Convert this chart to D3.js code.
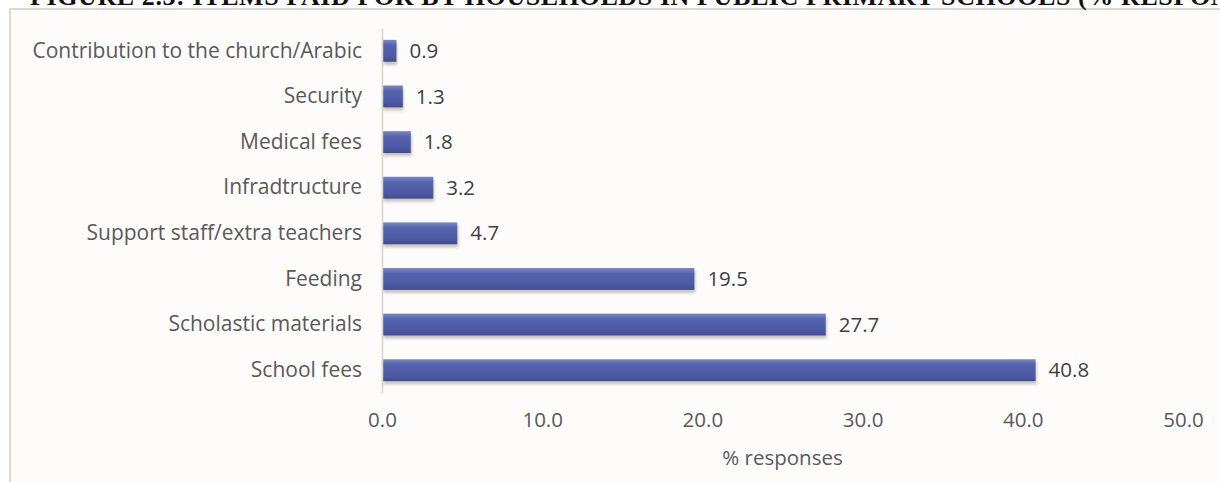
<!DOCTYPE html>
<html>
<head>
<meta charset="utf-8">
<script src="https://cdn.jsdelivr.net/npm/d3@7"></script>
<style>
  body { margin: 0; background: #ffffff; }
  svg { display: block; }
</style>
</head>
<body>
<svg id="chart" width="1220" height="482"></svg>
<script>
// data
var titleText = "FIGURE 2.3: ITEMS PAID FOR BY HOUSEHOLDS IN PUBLIC PRIMARY SCHOOLS (% RESPONSES)";
var categories = [
  "Contribution to the church/Arabic",
  "Security",
  "Medical fees",
  "Infradtructure",
  "Support staff/extra teachers",
  "Feeding",
  "Scholastic materials",
  "School fees"
];
var values = [0.9, 1.3, 1.8, 3.2, 4.7, 19.5, 27.7, 40.8];
var xTicks = [0, 10, 20, 30, 40, 50];
var xTitle = "% responses";

var svg = d3.select("#chart");
var font = "'Open Sans', Lato, sans-serif";
var fs = 20.5;

var margin = { top: 28, left: 382, right: 37, bottom: 89 };
var width = 1220 - margin.left - margin.right;
var height = 482 - margin.top - margin.bottom;

// frame + title strip (title is cut at the top, as in the scan)
svg.append("rect").attr("x", 0).attr("y", 0).attr("width", 1220).attr("height", 482).attr("fill", "#ffffff");
svg.append("rect")
  .attr("x", 10).attr("y", 9).attr("width", 1230).attr("height", 490)
  .attr("fill", "#fdfcfb").attr("stroke", "#dcd7d2").attr("stroke-width", 2);
svg.append("text")
  .attr("x", 30).attr("y", 4.5)
  .attr("font-family", "'Liberation Serif', 'Times New Roman', serif")
  .attr("font-weight", "bold")
  .attr("font-size", 26)
  .attr("letter-spacing", 0.6)
  .attr("fill", "#111")
  .text(titleText);

var defs = svg.append("defs");
var grad = defs.append("linearGradient").attr("id", "barGrad").attr("x1", 0).attr("y1", 0).attr("x2", 0).attr("y2", 1);
grad.append("stop").attr("offset", "0%").attr("stop-color", "#7a88c6");
grad.append("stop").attr("offset", "25%").attr("stop-color", "#5463ad");
grad.append("stop").attr("offset", "75%").attr("stop-color", "#4c5aa3");
grad.append("stop").attr("offset", "100%").attr("stop-color", "#3f4c8f");

var shadow = defs.append("filter").attr("id", "shadow").attr("x", "-5%").attr("y", "-20%").attr("width", "115%").attr("height", "160%");
shadow.append("feDropShadow").attr("dx", 1).attr("dy", 3).attr("stdDeviation", 1.5)
  .attr("flood-color", "#8a7a60").attr("flood-opacity", 0.45);

var g = svg.append("g").attr("transform", "translate(" + margin.left + "," + margin.top + ")");

var x = d3.scaleLinear().domain([0, 50]).range([0, width]);
var y = d3.scaleBand().domain(categories).range([0, height]).paddingInner(0.52).paddingOuter(0.26);

// bars
g.selectAll(".bar")
  .data(values)
  .enter()
  .append("rect")
  .attr("class", "bar")
  .attr("x", 0)
  .attr("y", function(d, i) { return y(categories[i]); })
  .attr("width", function(d) { return x(d); })
  .attr("height", y.bandwidth())
  .attr("fill", "url(#barGrad)")
  .attr("filter", "url(#shadow)");

// value labels
g.selectAll(".val")
  .data(values)
  .enter()
  .append("text")
  .attr("class", "val")
  .attr("x", function(d) { return x(d) + 13; })
  .attr("y", function(d, i) { return y(categories[i]) + y.bandwidth() / 2; })
  .attr("dy", "0.35em")
  .attr("font-family", font)
  .attr("font-size", fs)
  .attr("fill", "#404040")
  .text(function(d) { return d.toFixed(1); });

// y axis
var yAxis = g.append("g").call(d3.axisLeft(y).tickSize(0).tickPadding(20));
yAxis.select(".domain").attr("stroke", "#d8d2cc").attr("stroke-width", 1.5);
yAxis.selectAll("text").attr("font-family", font).attr("font-size", 21).attr("fill", "#595959");

// x axis (no line, labels only)
var xAxis = g.append("g")
  .attr("transform", "translate(0," + height + ")")
  .call(d3.axisBottom(x).tickValues(xTicks).tickSize(0).tickPadding(19).tickFormat(d3.format(".1f")));
xAxis.select(".domain").remove();
xAxis.selectAll("text").attr("font-family", font).attr("font-size", fs).attr("fill", "#595959");

g.append("text")
  .attr("x", width / 2)
  .attr("y", height + 72)
  .attr("text-anchor", "middle")
  .attr("font-family", font)
  .attr("font-size", fs)
  .attr("fill", "#595959")
  .text(xTitle);
</script>
</body>
</html>
